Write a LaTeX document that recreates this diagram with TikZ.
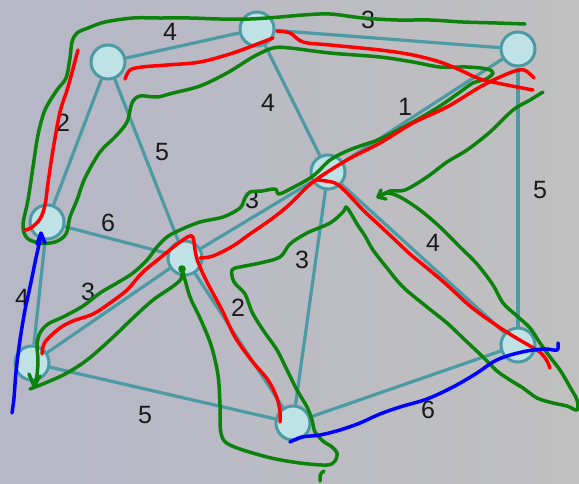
\documentclass[tikz,border=0pt]{standalone}
\usepackage{fontspec}
\setmainfont{Liberation Sans}
\definecolor{edgec}{RGB}{76,154,163}
\definecolor{nodec}{RGB}{190,226,230}
\definecolor{labc}{RGB}{25,25,25}
\definecolor{penG}{RGB}{12,130,12}
\definecolor{penR}{RGB}{255,0,0}
\definecolor{penB}{RGB}{0,0,255}
\definecolor{bgL}{RGB}{182,183,199}
\definecolor{bgR}{RGB}{192,192,192}
\begin{document}
\begin{tikzpicture}[x=1pt,y=-1pt,
  vtx/.style={circle, draw=edgec, fill=nodec, line width=3pt, minimum size=34pt, inner sep=0pt},
  link/.style={draw=edgec, line width=3.2pt},
  wt/.style={font=\fontsize{25}{25}\selectfont, text=labc, inner sep=0pt},
  pen/.style={line width=3.5pt, line cap=round, line join=round},
  gpen/.style={pen, draw=penG},
  rpen/.style={pen, draw=penR},
  bpen/.style={pen, draw=penB}]
\shade[left color=bgL, right color=bgR] (0,0) rectangle (579,483);
\useasboundingbox (0,0) rectangle (579,483);
% vertices
\node[vtx] (A) at (108,62) {};
\node[vtx] (B) at (257,29) {};
\node[vtx] (C) at (518,49) {};
\node[vtx] (D) at (328,172) {};
\node[vtx] (E) at (47,222) {};
\node[vtx] (F) at (185,258) {};
\node[vtx] (G) at (32,363) {};
\node[vtx] (H) at (293,423) {};
\node[vtx] (I) at (518,345) {};
% edges
\foreach \u/\v in {A/B,B/C,A/E,A/F,B/D,C/D,C/I,D/F,D/H,D/I,E/F,E/G,F/G,F/H,G/H,H/I}
  \draw[link] (\u) -- (\v);
% weights
\node[wt] (wAB) at (170,32) {4};
\node[wt] (wBC) at (368,20) {3};
\node[wt] (wAE) at (63,123) {2};
\node[wt] (wAF) at (162,152) {5};
\node[wt] (wBD) at (268,103) {4};
\node[wt] (wCD) at (405,107) {1};
\node[wt] (wCI) at (540,190) {5};
\node[wt] (wEF) at (108,223) {6};
\node[wt] (wDF) at (252,200) {3};
\node[wt] (wDH) at (302,260) {3};
\node[wt] (wDI) at (433,243) {4};
\node[wt] (wEG) at (22,298) {4};
\node[wt] (wFG) at (88,292) {3};
\node[wt] (wFH) at (238,308) {2};
\node[wt] (wGH) at (145,415) {5};
\node[wt] (wHI) at (428,410) {6};
% green pen
\draw[gpen] plot[smooth, tension=0.55] coordinates {(525,24) (497,23) (463,22) (430,20) (397,20) (363,18) (330,14) (303,15) (280,17) (250,19) (220,19) (190,18) (160,18) (133,18) (105,22) (88,28) (77,33) (72,42) (70,58) (66,78) (57,90) (45,110) (38,135) (33,167) (28,200) (23,225) (27,238) (40,243) (55,242) (66,234) (70,217) (77,200) (85,178) (100,152) (115,137) (127,122) (132,103) (140,96) (157,97) (173,93) (200,86) (227,73) (253,57) (273,48) (290,48) (330,53) (380,57) (413,62) (440,67) (467,67) (487,69) (493,73) (486,79) (473,83) (460,92) (440,106) (413,122) (380,139) (363,145) (347,151) (330,160) (313,176) (292,188) (279,194) (275,189) (262,191) (250,192) (245,198) (240,208) (223,217) (200,222) (180,230) (167,237) (157,247) (147,260) (133,273) (117,283) (100,293) (83,306) (63,317) (48,324) (40,333) (37,345) (38,360) (37,375) (35,385)};
\draw[gpen] (29,374) -- (34,386) -- (40,376);
\draw[gpen] plot[smooth, tension=0.55] coordinates {(30,389) (50,381) (67,373) (87,360) (110,340) (133,318) (153,300) (172,287) (181,279) (182,270)};
\fill[penG] (182,269) circle (3.8);
\draw[gpen] plot[smooth, tension=0.55] coordinates {(183,272) (190,297) (200,318) (211,345) (218,375) (220,405) (221,433) (230,445) (267,457) (300,463) (327,465) (335,461) (337,453) (332,447) (323,441) (315,432) (312,420) (307,407) (297,390) (287,370) (277,350) (263,330) (252,312) (245,294) (234,282) (232,270) (240,267) (260,263) (280,257) (290,244) (307,233) (330,223) (343,212) (346,207) (350,212) (357,224) (365,236) (373,250) (387,268) (403,287) (427,307) (447,323) (465,340) (483,357) (497,371) (510,380) (523,388) (537,398) (553,403) (567,406) (577,410) (577,400) (570,387) (560,370) (550,357) (540,343) (530,328) (517,316) (503,303) (493,285) (477,264) (460,247) (440,227) (420,210) (400,197) (387,193) (379,197)};
\draw[gpen] (381,190) -- (378,197) -- (386,199);
\draw[gpen] plot[smooth, tension=0.55] coordinates {(379,197) (390,191) (405,190) (427,177) (447,162) (467,150) (490,132) (513,110) (530,100) (543,92)};
\draw[gpen] (324,471) .. controls (320,474) .. (320,481);
% red pen
\draw[rpen] plot[smooth, tension=0.55] coordinates {(78,50) (68,87) (60,112) (53,150) (48,183) (45,205) (40,219) (31,228) (25,230)};
\draw[rpen] plot[smooth, tension=0.55] coordinates {(125,79) (130,70) (142,67) (167,65) (200,62) (233,53) (260,43) (273,38)};
\draw[rpen] plot[smooth, tension=0.55] coordinates {(277,31) (290,33) (303,42) (330,45) (380,50) (413,55) (440,62) (460,70) (480,79) (507,85) (533,90)};
\draw[rpen] plot[smooth, tension=0.55] coordinates {(200,258) (213,256) (233,246) (250,234) (273,218) (290,204) (313,182) (347,160) (380,143) (413,123) (447,107) (480,87) (500,77) (515,71) (524,70) (530,74) (534,78)};
\draw[rpen] plot[smooth, tension=0.55] coordinates {(42,354) (45,342) (60,328) (73,321) (93,314) (110,303) (127,290) (142,273) (160,258) (180,242) (192,236) (195,250) (198,262) (207,282) (222,310) (235,337) (252,361) (268,380) (277,398) (280,412) (280,422)};
\draw[rpen] plot[smooth, tension=0.55] coordinates {(317,180) (335,183) (347,193) (363,210) (378,224) (393,238) (410,254) (427,268) (447,285) (470,306) (493,323) (513,336) (530,346) (541,353) (547,361) (550,368)};
% blue pen
\draw[bpen] plot[smooth, tension=0.55] coordinates {(12,413) (14,398) (16,372) (20,340) (25,310) (30,287) (36,258) (41,236)};
\draw[bpen] (37,244) -- (41,233) -- (45,243);
\draw[bpen] plot[smooth, tension=0.55] coordinates {(290,442) (302,437) (320,435) (340,430) (360,423) (380,414) (400,407) (427,399) (453,387) (477,373) (493,362) (507,356) (527,351) (545,349) (557,350) (558,343)};
\end{tikzpicture}
\end{document}
